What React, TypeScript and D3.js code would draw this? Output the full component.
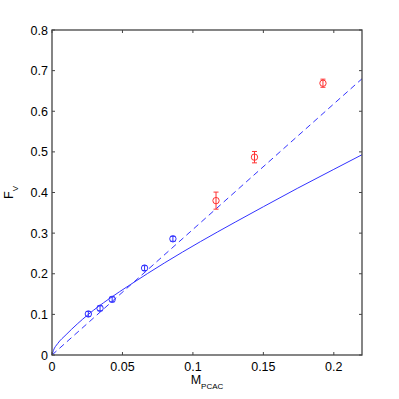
import * as d3 from "d3";
import { useEffect, useRef } from "react";

// lattice points (blue) and heavier points (red)
const blueM = [0.0258, 0.0341, 0.0427, 0.0657, 0.0858];
const blueF = [0.101, 0.115, 0.137, 0.214, 0.286];
const blueErr = [0.006, 0.006, 0.006, 0.006, 0.006];

const redM = [0.1164, 0.1437, 0.1923];
const redF = [0.380, 0.487, 0.669];
const redErr = [0.021, 0.014, 0.010];

// fit curves
const solidM = [0, 0.001, 0.004, 0.01, 0.0258, 0.04, 0.0555, 0.08, 0.1053, 0.13, 0.15, 0.174, 0.2, 0.22];
const solidF = [0, 0.011, 0.028, 0.050, 0.100, 0.137, 0.173, 0.227, 0.279, 0.327, 0.365, 0.410, 0.457, 0.493];
const dashedM = [0, 0.22];
const dashedF = [0, 0.68];

const xTicks = [0, 0.05, 0.1, 0.15, 0.2];
const yTicks = [0, 0.1, 0.2, 0.3, 0.4, 0.5, 0.6, 0.7, 0.8];

const App = () => {
  const ref = useRef<SVGSVGElement>(null);

  useEffect(() => {
    const svg = d3.select(ref.current);
    svg.selectAll("*").remove();

    const left = 52, right = 362, top = 30, bottom = 355;
    const x = d3.scaleLinear().domain([0, 0.22]).range([left, right]);
    const y = d3.scaleLinear().domain([0, 0.8]).range([bottom, top]);
    const axisColor = "#444";
    const font = "Liberation Sans, Arial, sans-serif";

    // curves
    const line = d3.line<[number, number]>()
      .x(d => x(d[0]))
      .y(d => y(d[1]))
      .curve(d3.curveMonotoneX);

    svg.append("path")
      .datum(solidM.map((m, i) => [m, solidF[i]] as [number, number]))
      .attr("d", line)
      .attr("fill", "none")
      .attr("stroke", "#3333ff")
      .attr("stroke-width", 1);

    svg.append("path")
      .datum(dashedM.map((m, i) => [m, dashedF[i]] as [number, number]))
      .attr("d", line)
      .attr("fill", "none")
      .attr("stroke", "#3333ff")
      .attr("stroke-width", 1)
      .attr("stroke-dasharray", "6,4");

    // points with error bars
    const drawPoints = (ms: number[], fs: number[], errs: number[], color: string) => {
      const g = svg.append("g").attr("stroke", color).attr("fill", "none").attr("stroke-width", 1);
      ms.forEach((m, i) => {
        const cx = x(m);
        const y1 = y(fs[i] + errs[i]);
        const y2 = y(fs[i] - errs[i]);
        g.append("line").attr("x1", cx).attr("x2", cx).attr("y1", y1).attr("y2", y2);
        g.append("line").attr("x1", cx - 2.5).attr("x2", cx + 2.5).attr("y1", y1).attr("y2", y1);
        g.append("line").attr("x1", cx - 2.5).attr("x2", cx + 2.5).attr("y1", y2).attr("y2", y2);
        g.append("circle").attr("cx", cx).attr("cy", y(fs[i])).attr("r", 3.2);
      });
    };
    drawPoints(blueM, blueF, blueErr, "#3333ff");
    drawPoints(redM, redF, redErr, "#ff3333");

    // box
    svg.append("rect")
      .attr("x", left).attr("y", top)
      .attr("width", right - left).attr("height", bottom - top)
      .attr("fill", "none").attr("stroke", axisColor).attr("stroke-width", 1.3);

    // ticks (inward, both sides)
    const tg = svg.append("g").attr("stroke", axisColor).attr("stroke-width", 1);
    xTicks.forEach(t => {
      tg.append("line").attr("x1", x(t)).attr("x2", x(t)).attr("y1", bottom).attr("y2", bottom - 3);
      tg.append("line").attr("x1", x(t)).attr("x2", x(t)).attr("y1", top).attr("y2", top + 3);
    });
    yTicks.forEach(t => {
      tg.append("line").attr("x1", left).attr("x2", left + 3).attr("y1", y(t)).attr("y2", y(t));
      tg.append("line").attr("x1", right).attr("x2", right - 3).attr("y1", y(t)).attr("y2", y(t));
    });

    // tick labels
    svg.append("g").selectAll("text")
      .data(xTicks)
      .enter()
      .append("text")
      .attr("x", d => x(d))
      .attr("y", bottom + 16)
      .attr("text-anchor", "middle")
      .attr("font-family", font)
      .attr("font-size", 12.5)
      .attr("fill", "#000")
      .text(d => d3.format("")(d));

    svg.append("g").selectAll("text")
      .data(yTicks)
      .enter()
      .append("text")
      .attr("x", left - 4)
      .attr("y", d => y(d) + 4.5)
      .attr("text-anchor", "end")
      .attr("font-family", font)
      .attr("font-size", 12.5)
      .attr("fill", "#000")
      .text(d => d3.format("")(d));

    // axis labels
    const xl = svg.append("text")
      .attr("x", (left + right) / 2)
      .attr("y", 384)
      .attr("text-anchor", "middle")
      .attr("font-family", font)
      .attr("font-size", 12.5)
      .attr("fill", "#000");
    xl.append("tspan").text("M");
    xl.append("tspan").attr("font-size", 8).attr("dy", 5).text("PCAC");

    const yl = svg.append("text")
      .attr("transform", `translate(13, ${(top + bottom) / 2}) rotate(-90)`)
      .attr("text-anchor", "middle")
      .attr("font-family", font)
      .attr("font-size", 12.5)
      .attr("fill", "#000");
    yl.append("tspan").text("F");
    yl.append("tspan").attr("font-size", 8).attr("dy", 5).text("V");
  }, []);

  return (
    <svg
      ref={ref}
      width={399}
      height={399}
      style={{ position: "absolute", left: 0, top: 0, background: "#fff" }}
    />
  );
};

export default App;
